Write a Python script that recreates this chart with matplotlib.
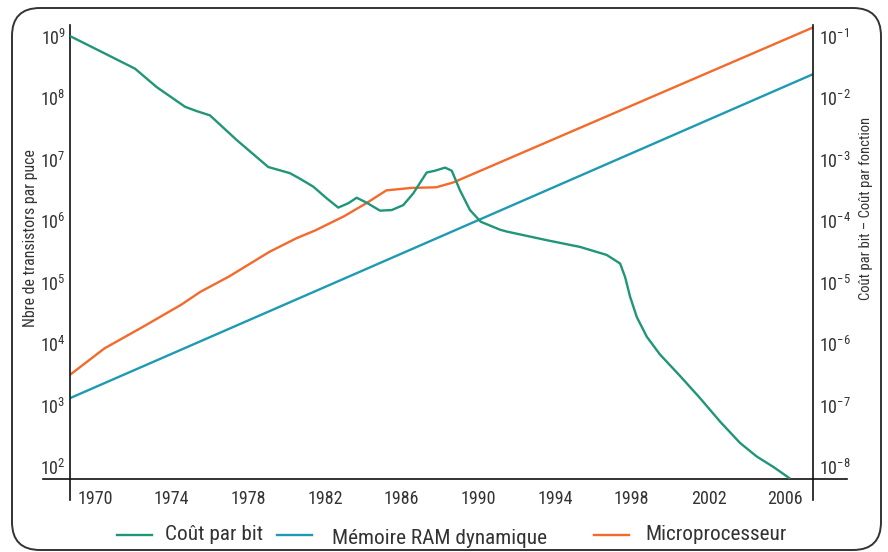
import matplotlib
matplotlib.use("Agg")
import matplotlib.pyplot as plt
from matplotlib import font_manager
from matplotlib.patches import FancyBboxPatch
from matplotlib.lines import Line2D
import numpy as np

# ---- data ----
cost_years = [1968.70, 1970.43, 1972.09, 1973.22, 1974.70, 1975.30, 1976.00, 1977.39,
              1979.04, 1980.17, 1980.69, 1981.39, 1982.09, 1982.69, 1983.21, 1983.65,
              1984.17, 1984.87, 1985.48, 1986.08, 1986.60, 1987.30, 1987.74, 1988.26,
              1988.61, 1989.04, 1989.56, 1990.12, 1991.13, 1991.48, 1993.56, 1995.30,
              1996.69, 1997.39, 1997.65, 1997.91, 1998.26, 1998.78, 1999.47, 2000.52,
              2001.56, 2002.60, 2003.65, 2004.52, 2005.39, 2006.26]
cost_log = [-0.99, -1.26, -1.52, -1.82, -2.14, -2.21, -2.28, -2.68,
            -3.12, -3.22, -3.31, -3.44, -3.63, -3.78, -3.71, -3.62,
            -3.70, -3.83, -3.82, -3.74, -3.55, -3.21, -3.18, -3.13,
            -3.18, -3.50, -3.82, -4.01, -4.14, -4.17, -4.31, -4.42,
            -4.55, -4.69, -4.91, -5.23, -5.56, -5.88, -6.17, -6.52,
            -6.88, -7.26, -7.61, -7.83, -8.00, -8.19]

cpu_years = [1968.7, 1970.5, 1972.5, 1974.5, 1975.5, 1977.0, 1979.1, 1980.5, 1981.5,
             1983.0, 1984.2, 1985.2, 1986.5, 1987.8, 1988.7, 2007.45]
cpu_log = [3.50, 3.93, 4.28, 4.64, 4.85, 5.10, 5.50, 5.72, 5.85,
           6.08, 6.30, 6.50, 6.54, 6.55, 6.63, 9.15]

ram_years = [1968.7, 2007.45]
ram_log = [3.12, 8.39]

year_ticks = [1970, 1974, 1978, 1982, 1986, 1990, 1994, 1998, 2002, 2006]
left_ticks = [1e2, 1e3, 1e4, 1e5, 1e6, 1e7, 1e8, 1e9]
right_ticks = [1e-8, 1e-7, 1e-6, 1e-5, 1e-4, 1e-3, 1e-2, 1e-1]

labels = ["Coût par bit", "Mémoire RAM dynamique", "Microprocesseur"]
c_green, c_blue, c_orange = "#1f9677", "#1e9ab3", "#f36a2b"

# ---- fonts ----
names = {f.name for f in font_manager.fontManager.ttflist}
fam = "DejaVu Sans"
for cand in ("Roboto Condensed", "PT Sans Narrow", "Archivo Narrow", "Liberation Sans"):
    if cand in names:
        fam = cand
        break
plt.rcParams["font.family"] = [fam, "DejaVu Sans"]
plt.rcParams["mathtext.fontset"] = "custom"
plt.rcParams["mathtext.rm"] = fam
tc = "#333333"

fig = plt.figure(figsize=(8.88, 5.52), dpi=100)
L, B, R, T = 70 / 888, 73 / 552, 813 / 888, 527 / 552
ax = fig.add_axes([L, B, R - L, T - B])
ax2 = ax.twinx()

ylo, yhi = 10 ** 1.805, 10 ** 9.19
ax.set_xlim(1968.7, 2007.45)
ax.set_yscale("log")
ax.set_ylim(ylo, yhi)
ax2.set_yscale("log")
ax2.set_ylim(ylo * 1e-10, yhi * 1e-10)

lw = 1.7
ax.plot(ram_years, 10 ** np.array(ram_log), color=c_blue, lw=lw, solid_capstyle="butt")
ax.plot(cpu_years, 10 ** np.array(cpu_log), color=c_orange, lw=lw, solid_capstyle="butt")
ax2.plot(cost_years, 10 ** np.array(cost_log), color=c_green, lw=lw, solid_capstyle="butt",
         solid_joinstyle="round")

for a in (ax, ax2):
    for s in a.spines.values():
        s.set_visible(False)
    a.minorticks_off()
    a.tick_params(length=0, colors=tc, labelsize=13)
ax.set_yticks(left_ticks)
ax2.set_yticks(right_ticks)
ax2.minorticks_off()
ax.set_xticks(year_ticks)
ax.set_xticklabels([str(y) for y in year_ticks])
ax.tick_params(axis="x", pad=8, labelsize=13)
ax.tick_params(axis="y", pad=3)
ax2.tick_params(axis="y", pad=4)

kw = dict(transform=ax.transAxes, color="#111111", lw=1.2, clip_on=False)
ax.plot([(43 - 70) / 743, (847 - 70) / 743], [0, 0], **kw)
ax.plot([0, 0], [-(500 - 479) / 454, 1], **kw)
ax.plot([1, 1], [-(500 - 479) / 454, 1], **kw)

# axis titles
fig.text(31 / 888, 1 - 238 / 552, "Nbre de transistors par puce", color=tc, fontsize=11.4,
         rotation=90, ha="center", va="center")
fig.text(866 / 888, 1 - 208 / 552, "Coût par bit – Coût par fonction", color=tc,
         fontsize=10.5, rotation=90, ha="center", va="center")

ly = (552 - 535) / 552
items = [(117, 152, 165, c_green, labels[0], 0),
         (277, 312, 332, c_blue, labels[1], -3),
         (594, 629, 645, c_orange, labels[2], 0)]
for x0, x1, xt, col, lab, dy in items:
    fig.add_artist(Line2D([x0 / 888, x1 / 888], [ly, ly], color=col, lw=lw,
                          transform=fig.transFigure))
    fig.text(xt / 888, ly + dy / 552, lab, color=tc, fontsize=15.3, va="center", ha="left")

fig.patches.append(FancyBboxPatch((0.12, 0.02), 8.69, 5.42,
                                  boxstyle="round,pad=0,rounding_size=0.28",
                                  transform=fig.dpi_scale_trans, fill=False,
                                  ec="#333333", lw=1.4))

fig.savefig("out.png", dpi=100)
